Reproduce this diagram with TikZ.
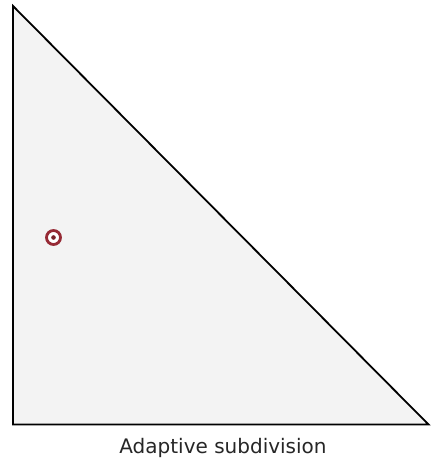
\documentclass[tikz,border=0pt]{standalone}
\usepackage{fontspec}
\setmainfont{DejaVu Sans}
\usetikzlibrary{positioning}

\definecolor{areafill}{HTML}{F3F3F3}
\definecolor{markred}{HTML}{962A35}

\begin{document}
\begin{tikzpicture}[x=1pt, y=-1pt, thick]
    \useasboundingbox (0,0) rectangle (430,462);
    % Points
    \coordinate (apex) at (13,6);
    \coordinate (corner) at (13,424.5);
    \coordinate (tip) at (428.5,424.5);
    \coordinate (sample) at (53.5,237.5);

    % Triangle
    \draw[fill=areafill, line width=1.8pt, line join=miter] (apex) -- (corner) -- (tip) -- cycle;

    % Sample mark
    \node[circle, draw=markred, fill=white, line width=2.8pt, minimum size=14pt, inner sep=0pt] (ring) at (sample) {};
    \node[circle, fill=markred!80!black, minimum size=4.6pt, inner sep=0pt] (dot) at (sample) {};

    % Caption
    \node[anchor=base, font=\fontsize{20}{24}\selectfont, text=black!85, inner sep=0pt] (caption) at (223,453) {Adaptive subdivision};
\end{tikzpicture}
\end{document}
